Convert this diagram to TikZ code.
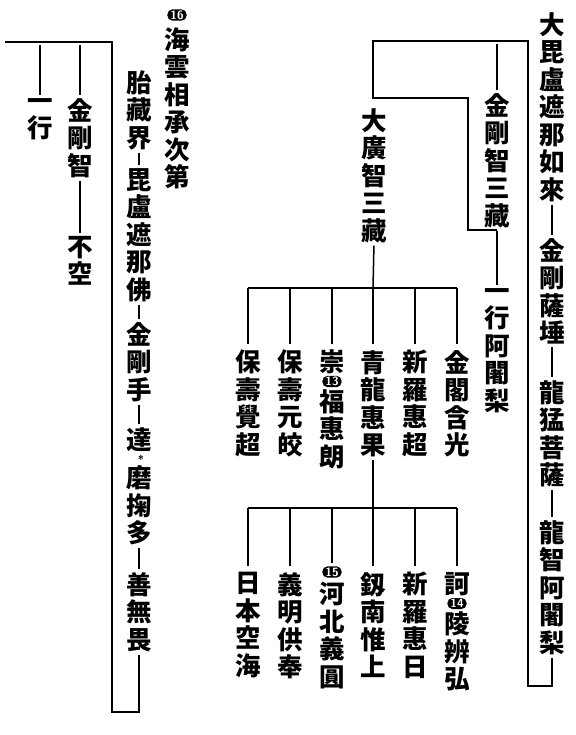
\documentclass[tikz,border=0pt]{standalone}
\usepackage{fontspec}
\newfontfamily\cjk{Noto Sans CJK JP}
\begin{document}
\begin{tikzpicture}[x=1pt,y=-1pt,
  col/.style={font=\cjk\bfseries\fontsize{25.5}{27.5}\selectfont, align=center, inner sep=0pt, anchor=north},
  ln/.style={line width=1.5pt, line join=miter},
  lk/.style={ln, shorten <=3pt, shorten >=3pt},
  drop/.style={ln, shorten >=6pt},
  badge/.style={fill=black, text=white, rounded corners=5pt, inner xsep=3pt, inner ysep=1.2pt, font=\sffamily\bfseries\fontsize{12}{12}\selectfont},
  star/.style={inner sep=0pt, font=\sffamily\bfseries\fontsize{11}{11}\selectfont}]
\useasboundingbox (0,0) rectangle (575,735);

% ---------- right column ----------
\node[col] (r1) at (552,12) {大\\毘\\盧\\遮\\那\\如\\來};
\node[col] (r2) at (552,238) {金\\剛\\薩\\埵};
\node[col] (r3) at (552,380) {龍\\猛\\菩\\薩};
\node[col] (r4) at (552,520) {龍\\智\\阿\\闍\\梨};
\draw[lk] (r1.south) -- (r2.north);
\draw[lk] (r2.south) -- (r3.north);
\draw[lk] (r3.south) -- (r4.north);

\coordinate (rb) at (552,686);
\coordinate (rc) at (528,686);
\coordinate (rt) at (528,41);
\coordinate (mt) at (497,41);
\coordinate (lt) at (373,41);
\coordinate (a1) at (373,98);
\coordinate (a2) at (468,98);
\coordinate (a3) at (468,230);
\coordinate (a4) at (497,230);
\draw[ln, shorten <=3pt] (r4.south) -- (rb) -- (rc) -- (rt) -- (lt) -- (a1) -- (a2) -- (a3) -- (a4);

% ---------- middle ----------
\node[col] (m1) at (497,93) {金\\剛\\智\\三\\藏};
\node[col] (m2) at (497,288) {一\\行\\阿\\闍\\梨};
\draw[lk] (mt) -- (m1.north);
\draw[lk] (m1.south) -- (m2.north);

\node[col] (d1) at (374,108) {大\\廣\\智\\三\\藏};
\coordinate (h3m) at (373,288);
\coordinate (h3l) at (248,288);
\coordinate (h3r) at (457,288);
\draw[ln, shorten <=3pt] (d1.south) -- (h3m);
\draw[ln] (h3l) -- (h3r);

\node[col] (c1) at (248,350) {保\\壽\\覺\\超};
\node[col] (c2) at (290,350) {保\\壽\\元\\皎};
\node[col] (c3) at (332,350) {崇\\[12pt]福\\惠\\朗};
\node[badge] (b13) at (332,381.5) {13};
\node[col] (c4) at (373,350) {青\\龍\\惠\\果};
\node[col] (c5) at (415,350) {新\\羅\\惠\\超};
\node[col] (c6) at (457,350) {金\\閣\\含\\光};
\foreach \n in {c1,c2,c3,c4,c5,c6}
  \draw[drop] (\n.north |- h3l) -- (\n.north);

\coordinate (h4m) at (373,508);
\coordinate (h4l) at (248,508);
\coordinate (h4r) at (457,508);
\draw[ln, shorten <=3pt] (c4.south) -- (h4m);
\draw[ln] (h4l) -- (h4r);

\node[col] (e1) at (248,572) {日\\本\\空\\海};
\node[col] (e2) at (290,572) {義\\明\\供\\奉};
\node[badge] (b15) at (332,572) {15};
\node[col] (e3) at (332,582) {河\\北\\義\\圓};
\node[col] (e4) at (373,572) {釼\\南\\惟\\上};
\node[col] (e5) at (415,572) {新\\羅\\惠\\日};
\node[col] (e6) at (457,572) {訶\\[13pt]陵\\辨\\弘};
\node[badge] (b14) at (457,603.5) {14};
\foreach \n in {e1,e2,e4,e5,e6}
  \draw[drop] (\n.north |- h4l) -- (\n.north);
\draw[ln, shorten >=3pt] (b15.north |- h4l) -- (b15.north);

% ---------- left ----------
\node[badge] (b16) at (177,15) {16};
\node[col] (t1) at (177,27) {海\\雲\\相\\承\\次\\第};

\node[col] (p1) at (139,70) {胎\\藏\\界};
\node[col] (p2) at (139,168) {毘\\盧\\遮\\那\\佛};
\node[col] (p3) at (139,322) {金\\剛\\手};
\node[col] (p4) at (139,427) {達\\[11pt]磨\\掬\\多};
\node[star] (st) at (141,459) {*};
\node[col] (p5) at (139,572) {善\\無\\畏};
\draw[lk] (p1.south) -- (p2.north);
\draw[lk] (p2.south) -- (p3.north);
\draw[lk] (p3.south) -- (p4.north);
\draw[lk] (p4.south) -- (p5.north);

\coordinate (lb) at (139,712);
\coordinate (lc) at (112,712);
\coordinate (ltr) at (112,42);
\coordinate (lend) at (5,42);
\draw[ln, shorten <=3pt] (p5.south) -- (lb) -- (lc) -- (ltr) -- (lend);

\coordinate (qt) at (80,42);
\coordinate (st1) at (40,42);
\node[col] (q1) at (80,98) {金\\剛\\智};
\node[col] (q2) at (80,236) {不\\空};
\node[col] (s1) at (40,98) {一\\行};
\draw[lk] (qt) -- (q1.north);
\draw[lk] (q1.south) -- (q2.north);
\draw[lk] (st1) -- (s1.north);
\end{tikzpicture}
\end{document}
